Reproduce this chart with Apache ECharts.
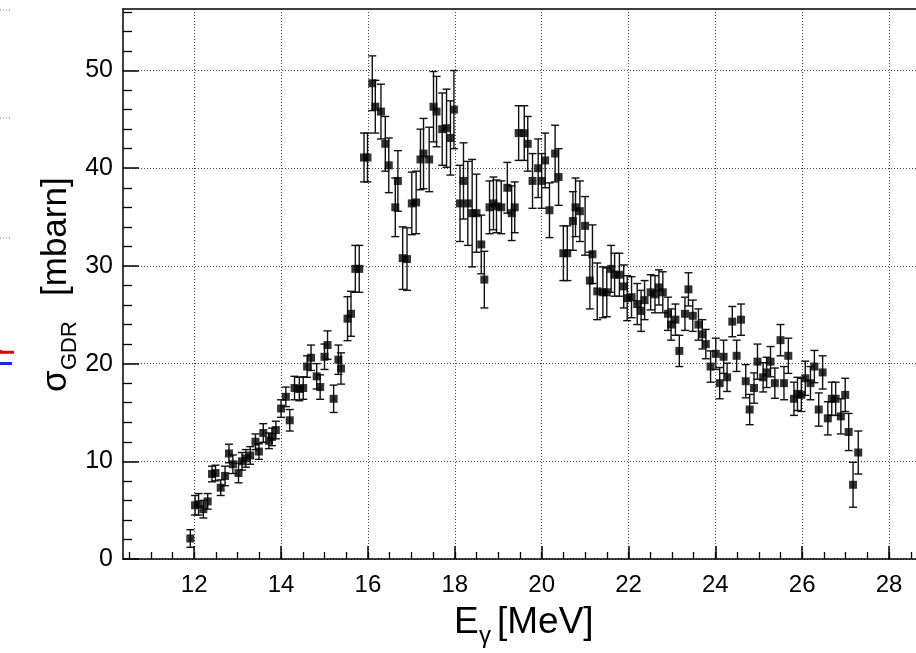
<!DOCTYPE html>
<html>
<head>
<meta charset="utf-8">
<script src="https://cdn.jsdelivr.net/npm/echarts@6/dist/echarts.min.js"></script>
<style>
  html, body { margin: 0; padding: 0; background: #fff; }
  #chart { width: 916px; height: 653px; }
</style>
</head>
<body>
<div id="chart"></div>
<script>
// Photon energy (MeV) of each measured point
const energy = [
  11.91, 12.02, 12.10, 12.21, 12.31, 12.41, 12.49, 12.61, 12.71, 12.80,
  12.89, 13.02, 13.10, 13.19, 13.29, 13.41, 13.49, 13.59, 13.72, 13.79,
  13.88, 14.00, 14.11, 14.20, 14.31, 14.42, 14.51, 14.60, 14.69, 14.82,
  14.90, 15.00, 15.07, 15.21, 15.32, 15.38, 15.53, 15.61, 15.71, 15.80,
  15.91, 15.99, 16.10, 16.17, 16.30, 16.40, 16.48, 16.63, 16.69, 16.80,
  16.90, 17.01, 17.11, 17.21, 17.28, 17.41, 17.51, 17.58, 17.71, 17.81,
  17.90, 17.98, 18.12, 18.20, 18.30, 18.40, 18.50, 18.61, 18.68, 18.80,
  18.89, 18.96, 19.07, 19.21, 19.31, 19.38, 19.47, 19.60, 19.68, 19.79,
  19.92, 20.00, 20.08, 20.18, 20.31, 20.39, 20.50, 20.59, 20.72, 20.78,
  20.88, 21.00, 21.11, 21.17, 21.28, 21.41, 21.50, 21.60, 21.68, 21.79,
  21.89, 21.97, 22.07, 22.20, 22.29, 22.37, 22.51, 22.61, 22.70, 22.79,
  22.91, 22.98, 23.08, 23.17, 23.30, 23.38, 23.48, 23.61, 23.70, 23.78,
  23.89, 24.01, 24.10, 24.19, 24.27, 24.39, 24.49, 24.59, 24.70, 24.79,
  24.89, 24.97, 25.10, 25.18, 25.27, 25.37, 25.50, 25.58, 25.68, 25.81,
  25.89, 25.98, 26.07, 26.19, 26.28, 26.38, 26.47, 26.59, 26.68, 26.77,
  26.89, 26.99, 27.07, 27.17, 27.29
];

// GDR cross section (mbarn)
const sigma = [
  2.1, 5.5, 5.6, 5.1, 5.9, 8.7, 8.8, 7.3, 8.5, 10.8,
  9.7, 8.8, 10.0, 10.3, 10.6, 12.0, 11.0, 12.9, 12.1, 12.5,
  13.2, 15.4, 16.6, 14.2, 17.5, 17.4, 17.5, 19.7, 20.6, 18.7,
  17.6, 20.7, 21.9, 16.4, 20.4, 19.5, 24.6, 25.1, 29.7, 29.7,
  41.1, 41.1, 48.7, 46.3, 45.8, 42.5, 40.3, 36.0, 38.7, 30.8,
  30.7, 36.4, 36.5, 40.9, 41.5, 40.9, 46.3, 45.8, 44.0, 44.1,
  43.1, 46.0, 36.4, 38.7, 36.4, 35.4, 35.4, 32.2, 28.6, 36.0,
  36.4, 36.1, 36.0, 38.0, 35.4, 36.0, 43.6, 43.6, 42.5, 38.7,
  40.0, 38.7, 40.8, 35.7, 41.5, 39.1, 31.3, 31.3, 34.6, 36.0,
  35.6, 34.1, 28.5, 31.2, 27.4, 27.3, 27.3, 29.7, 29.1, 29.1,
  27.9, 26.7, 26.8, 26.1, 25.4, 26.5, 27.3, 27.1, 27.8, 27.3,
  25.1, 24.0, 24.5, 21.3, 25.1, 27.6, 24.9, 24.0, 23.0, 22.0,
  19.7, 21.0, 18.0, 20.7, 18.6, 24.3, 20.8, 24.5, 18.2, 15.3,
  17.5, 20.2, 18.6, 19.1, 20.2, 18.0, 22.4, 18.0, 20.8, 16.4,
  16.9, 16.8, 18.5, 18.0, 19.7, 15.3, 19.1, 14.4, 16.4, 16.4,
  14.6, 16.8, 13.0, 7.6, 10.9
];

// Statistical uncertainty of each point (mbarn)
const sigmaErr = [
  0.9, 1.0, 1.1, 0.9, 0.8, 0.8, 0.8, 0.8, 1.0, 0.95,
  0.95, 1.0, 0.9, 0.9, 0.9, 0.8, 0.8, 0.95, 0.8, 0.9,
  0.9, 0.9, 1.0, 1.1, 1.2, 1.2, 1.15, 1.1, 1.3, 1.3,
  1.25, 1.3, 1.45, 1.4, 1.5, 1.6, 2.25, 2.3, 2.4, 2.4,
  2.5, 2.5, 2.8, 2.7, 2.8, 2.8, 2.8, 3.0, 3.1, 3.2,
  3.2, 3.2, 3.2, 3.1, 3.6, 3.3, 3.6, 3.6, 3.7, 4.0,
  3.8, 4.0, 3.9, 3.9, 4.3, 5.5, 4.0, 3.0, 2.9, 2.7,
  2.7, 2.7, 2.7, 2.6, 2.8, 2.6, 2.8, 2.8, 2.8, 2.8,
  3.0, 2.8, 2.8, 2.8, 2.9, 2.9, 2.8, 2.8, 3.0, 3.0,
  3.1, 3.0, 2.9, 3.0, 2.9, 2.6, 2.5, 2.4, 2.2, 2.2,
  2.2, 2.3, 2.1, 2.1, 2.1, 2.0, 1.8, 1.9, 1.8, 2.1,
  1.7, 1.6, 1.6, 1.6, 1.7, 1.7, 1.6, 1.6, 1.5, 1.5,
  1.6, 1.6, 1.6, 1.7, 1.45, 1.55, 1.6, 1.6, 1.7, 1.55,
  1.55, 1.8, 1.5, 1.55, 1.55, 1.55, 1.6, 1.7, 1.8, 1.7,
  1.7, 1.7, 1.75, 1.7, 1.65, 1.7, 1.7, 1.7, 1.7, 1.7,
  1.8, 1.7, 1.9, 2.3, 2.2
];

// Axis ticks and labels
const xMajorTicks = [12, 14, 16, 18, 20, 22, 24, 26, 28];
const xMinorTicks = [10.5, 11, 11.5, 12, 12.5, 13, 13.5, 14, 14.5, 15, 15.5, 16, 16.5, 17, 17.5,
  18, 18.5, 19, 19.5, 20, 20.5, 21, 21.5, 22, 22.5, 23, 23.5, 24, 24.5, 25, 25.5, 26, 26.5,
  27, 27.5, 28, 28.5];
const yMajorTicks = [0, 10, 20, 30, 40, 50];
const yMinorTicks = [2, 4, 6, 8, 12, 14, 16, 18, 22, 24, 26, 28, 32, 34, 36, 38, 42, 44, 46, 48,
  52, 54, 56];
const xRange = [10.36, 28.62];
const yRange = [0, 56.3];

const FONT = 'Liberation Sans, Arial, Helvetica, sans-serif';
const INK = '#000';
const GRID_DOT = { color: '#444', width: 1, type: [1, 2] };

const chart = echarts.init(document.getElementById('chart'), null, { renderer: 'canvas' });

const points = energy.map((e, i) => [e, sigma[i]]);
const bars = energy.map((e, i) => [e, sigma[i] - sigmaErr[i], sigma[i] + sigmaErr[i]]);

function renderErrorBar(params, api) {
  const x = api.value(0);
  const lo = api.coord([x, api.value(1)]);
  const hi = api.coord([x, api.value(2)]);
  const cap = 4;
  const style = { stroke: '#111', lineWidth: 1.4 };
  return {
    type: 'group',
    children: [
      { type: 'line', shape: { x1: lo[0], y1: lo[1], x2: hi[0], y2: hi[1] }, style },
      { type: 'line', shape: { x1: lo[0] - cap, y1: lo[1], x2: lo[0] + cap, y2: lo[1] }, style },
      { type: 'line', shape: { x1: hi[0] - cap, y1: hi[1], x2: hi[0] + cap, y2: hi[1] }, style }
    ]
  };
}

const option = {
  animation: false,
  backgroundColor: '#fff',
  grid: { left: 123, right: 0, top: 9, bottom: 94, containLabel: false },
  xAxis: [
    {
      type: 'value', position: 'bottom', min: xRange[0], max: xRange[1],
      axisLine: { show: true, lineStyle: { color: INK, width: 1.5 } },
      axisTick: { show: true, inside: true, length: 13, customValues: xMajorTicks,
        lineStyle: { color: INK, width: 1.5 } },
      axisLabel: { show: true, customValues: xMajorTicks, margin: 14, color: INK,
        fontSize: 24, fontFamily: FONT },
      splitLine: { show: true, lineStyle: GRID_DOT }
    },
    {
      // minor ticks along the bottom
      type: 'value', position: 'bottom', min: xRange[0], max: xRange[1],
      axisLine: { show: false },
      axisTick: { show: true, inside: true, length: 7, customValues: xMinorTicks,
        lineStyle: { color: INK, width: 1.3 } },
      axisLabel: { show: false },
      splitLine: { show: false }
    },
    {
      // top frame line
      type: 'value', position: 'top', min: xRange[0], max: xRange[1],
      axisLine: { show: true, lineStyle: { color: INK, width: 1.5 } },
      axisTick: { show: false }, axisLabel: { show: false }, splitLine: { show: false }
    }
  ],
  yAxis: [
    {
      type: 'value', position: 'left', min: yRange[0], max: yRange[1],
      axisLine: { show: true, lineStyle: { color: INK, width: 1.5 } },
      axisTick: { show: true, inside: true, length: 16, customValues: yMajorTicks,
        lineStyle: { color: INK, width: 1.5 } },
      axisLabel: { show: true, customValues: yMajorTicks, margin: 10, color: INK,
        fontSize: 25, fontFamily: FONT },
      splitLine: { show: true, lineStyle: GRID_DOT }
    },
    {
      // minor ticks along the left side
      type: 'value', position: 'left', min: yRange[0], max: yRange[1],
      axisLine: { show: false },
      axisTick: { show: true, inside: true, length: 9, customValues: yMinorTicks,
        lineStyle: { color: INK, width: 1.3 } },
      axisLabel: { show: false },
      splitLine: { show: false }
    }
  ],
  series: [
    {
      type: 'custom',
      name: 'errors',
      xAxisIndex: 0, yAxisIndex: 0,
      renderItem: renderErrorBar,
      encode: { x: 0, y: [1, 2] },
      data: bars,
      z: 3
    },
    {
      type: 'scatter',
      name: 'sigma',
      xAxisIndex: 0, yAxisIndex: 0,
      symbol: 'rect',
      symbolSize: 8,
      itemStyle: { color: '#000' },
      data: points,
      z: 4
    }
  ],
  graphic: [
    // x axis title: E_γ [MeV]
    { type: 'text', left: 454, top: 604,
      style: { text: 'E', fontSize: 37, fontFamily: FONT, fill: INK } },
    { type: 'text', left: 479, top: 624,
      style: { text: 'γ', fontSize: 24, fontFamily: FONT, fill: INK } },
    { type: 'text', left: 497, top: 604,
      style: { text: '[MeV]', fontSize: 37, fontFamily: FONT, fill: INK } },
    // y axis title: σ_GDR [mbarn]
    { type: 'text', x: 39, y: 392, rotation: Math.PI / 2,
      style: { text: 'σ', fontSize: 35, fontFamily: FONT, fill: INK } },
    { type: 'text', x: 59, y: 370, rotation: Math.PI / 2,
      style: { text: 'GDR', fontSize: 22, fontFamily: FONT, fill: INK } },
    { type: 'text', x: 39, y: 296, rotation: Math.PI / 2,
      style: { text: '[mbarn]', fontSize: 35, fontFamily: FONT, fill: INK } },
    // pieces of the neighbouring panel at the left edge
    { type: 'line', shape: { x1: 0, y1: 10, x2: 12, y2: 10 },
      style: { stroke: '#777', lineWidth: 1, lineDash: [1, 2] } },
    { type: 'line', shape: { x1: 0, y1: 118, x2: 12, y2: 118 },
      style: { stroke: '#777', lineWidth: 1, lineDash: [1, 2] } },
    { type: 'line', shape: { x1: 0, y1: 238, x2: 12, y2: 238 },
      style: { stroke: '#777', lineWidth: 1, lineDash: [1, 2] } },
    { type: 'text', x: -12, y: 356, rotation: Math.PI / 2,
      style: { text: 'r', fontSize: 34, fontFamily: FONT, fill: '#e00000' } },
    { type: 'rect', shape: { x: 0, y: 362, width: 12, height: 3 },
      style: { fill: '#1030e0' } }
  ]
};

chart.setOption(option);
</script>
</body>
</html>
